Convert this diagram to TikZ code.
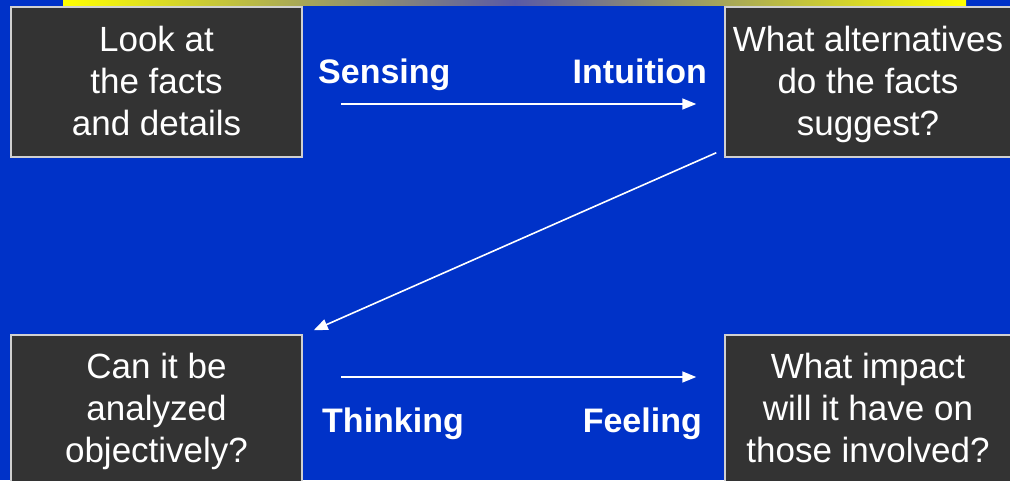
\documentclass[tikz,border=0pt]{standalone}
\usepackage{fontspec}
\setmainfont{Liberation Sans}
\usetikzlibrary{arrows.meta}
\definecolor{bgblue}{HTML}{0032C8}
\definecolor{boxfill}{HTML}{333333}
\definecolor{boxline}{HTML}{D0D0D0}
\newcommand{\fstr}{\rule{0pt}{31pt}}
\newcommand{\lstr}{\rule[-7.5pt]{0pt}{7.5pt}}
\tikzset{
  box/.style={draw=boxline, line width=1.5pt, fill=boxfill, text=white, align=center,
    inner sep=0pt, font=\fontsize{35}{42}\selectfont},
  lbox/.style={box, minimum width=291pt},
  rbox/.style={box, minimum width=286pt},
  lbl/.style={text=white, font=\fontsize{34}{40}\selectfont\bfseries, inner sep=0pt},
  arr/.style={draw=white, line width=1.6pt, -{Triangle[length=14pt,width=11pt]}}
}
\begin{document}
\begin{tikzpicture}[x=1pt,y=-1pt]
\useasboundingbox (0,0) rectangle (1010,480);
\clip (0,0) rectangle (1010,480);
\fill[bgblue] (0,0) rectangle (1010,480);
\shade[left color=yellow, right color=yellow, middle color=gray!70!blue] (63,-2) rectangle (966,5);
\node[lbox, minimum height=150pt] (tl) at (156.5,82) {\fstr Look at\\the facts\\and details\lstr};
\node[rbox, minimum height=150pt] (tr) at (868,82) {\fstr What alternatives\\do the facts\\suggest?\lstr};
\node[lbox, minimum height=147pt] (bl) at (156.5,408.5) {\fstr Can it be\\analyzed\\objectively?\lstr};
\node[rbox, minimum height=147pt] (br) at (868,408.5) {\fstr What impact\\will it have on\\those involved?\lstr};
\node[lbl, anchor=base west] (sen) at (318,83) {Sensing};
\node[lbl, anchor=base east] (int) at (707,83) {Intuition};
\node[lbl, anchor=base west] (thi) at (322,432) {Thinking};
\node[lbl, anchor=base east] (fee) at (702,432) {Feeling};
\draw[arr] ([xshift=38pt,yshift=-22pt]tl.east) -- ([xshift=-28pt,yshift=-22pt]tr.west);
\draw[arr] ([xshift=38pt,yshift=31.5pt]bl.east) -- ([xshift=-28pt,yshift=31.5pt]br.west);
\draw[arr] ([xshift=-8pt,yshift=5pt]tr.south west) -- ([xshift=11pt,yshift=4pt]bl.north east);
\end{tikzpicture}
\end{document}
